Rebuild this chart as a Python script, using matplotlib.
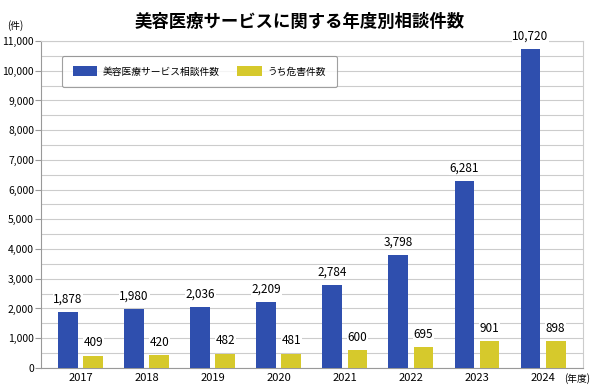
import numpy as np
import matplotlib
matplotlib.use("Agg")
import matplotlib.pyplot as plt

plt.rcParams['font.family'] = ['Noto Sans CJK JP', 'DejaVu Sans']

years = ['2017', '2018', '2019', '2020', '2021', '2022', '2023', '2024']
consults = [1878, 1980, 2036, 2209, 2784, 3798, 6281, 10720]
harm = [409, 420, 482, 481, 600, 695, 901, 898]

blue = '#2f4fae'
yellow = '#d6c92c'

fig = plt.figure(figsize=(5.94, 3.91), dpi=100)
ax = fig.add_axes([0.069, 0.059, 0.912, 0.836])

x = np.arange(len(years))
w = 0.3
off = 0.19
ax.bar(x - off, consults, w, color=blue, label='美容医療サービス相談件数', zorder=3)
ax.bar(x + off, harm, w, color=yellow, label='うち危害件数', zorder=3)

for xi, v in zip(x, consults):
    ax.text(xi - off, v + 220, f'{v:,}', ha='center', va='bottom', fontsize=8.5,
            bbox=dict(facecolor='white', edgecolor='none', pad=0.5), zorder=4)
for xi, v in zip(x, harm):
    ax.text(xi + off, v + 220, f'{v:,}', ha='center', va='bottom', fontsize=8.5,
            bbox=dict(facecolor='white', edgecolor='none', pad=0.5), zorder=4)

ax.set_xlim(-0.6, len(years) - 0.4)
ax.set_ylim(0, 11000)
ax.set_xticks(x)
ax.set_xticklabels(years, fontsize=8)
ax.set_yticks(np.arange(0, 11001, 1000))
ax.set_yticklabels([f'{v:,}' for v in range(0, 11001, 1000)], fontsize=7.5)
ax.set_yticks(np.arange(0, 11001, 500), minor=True)
ax.grid(axis='y', which='both', color='#cccccc', linewidth=0.8, zorder=0)
ax.tick_params(axis='x', length=0, pad=4)
ax.tick_params(axis='y', which='major', length=4, color='#999999', pad=1)
ax.tick_params(axis='y', which='minor', length=0)
for s in ['left', 'bottom']:
    ax.spines[s].set_color('#999999')
for s in ['top', 'right']:
    ax.spines[s].set_color('#cccccc')

leg = ax.legend(loc='upper left', bbox_to_anchor=(0.03, 0.97), ncol=2, fontsize=7,
                frameon=True, fancybox=True, edgecolor='#888888', borderpad=1.1,
                handlelength=2.5, handleheight=1.1, columnspacing=1.8, handletextpad=0.6)
leg.get_frame().set_linewidth(0.8)

fig.text(0.505, 0.945, '美容医療サービスに関する年度別相談件数', ha='center', va='center',
         fontsize=12.5, fontweight='bold')
fig.text(0.012, 0.935, '(件)', ha='left', va='center', fontsize=7)
fig.text(0.993, 0.033, '(年度)', ha='right', va='center', fontsize=7)

fig.savefig('out.png', dpi=100)
